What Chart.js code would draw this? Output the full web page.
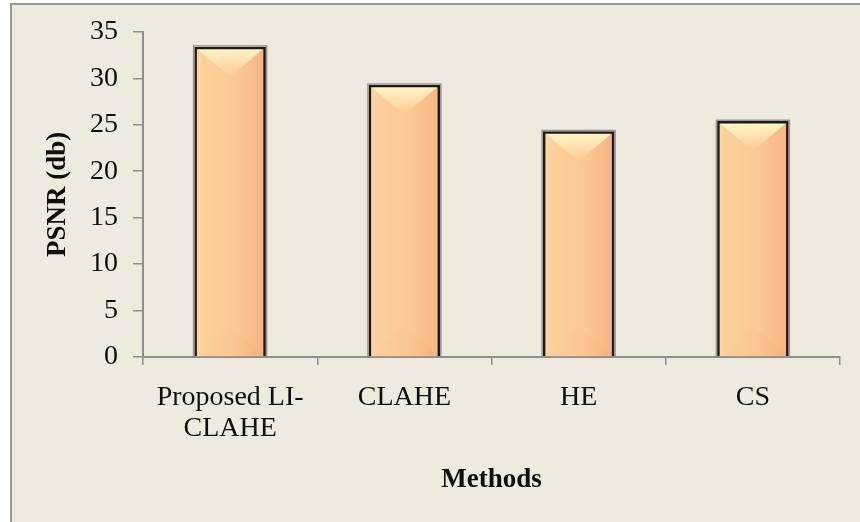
<!DOCTYPE html>
<html>
<head>
<meta charset="utf-8">
<script src="https://cdn.jsdelivr.net/npm/chart.js@4.4.1/dist/chart.umd.min.js"></script>
<style>
  html, body { margin: 0; padding: 0; background: #ffffff; overflow: hidden; }
  #panel {
    position: absolute; left: 10px; top: 3px; width: 870px; height: 540px;
    background: #EDEAE0;
    border-left: 2px solid #9a9a9a; border-top: 2px solid #9a9a9a;
  }
  #wrap { position: absolute; left: 0; top: 0; width: 860px; height: 522px; }
</style>
</head>
<body>
<div id="panel"></div>
<div id="wrap"><canvas id="chart" width="860" height="522"></canvas></div>
<script>
// Methods compared and their PSNR scores
const methods = [['Proposed LI-', 'CLAHE'], 'CLAHE', 'HE', 'CS'];
const psnr = [33.4, 29.3, 24.3, 25.4];
const yMin = 0;
const yMax = 35;
const yStep = 5;

const serif = '"Liberation Serif", "Times New Roman", serif';
const axisGrey = '#8e8e8e';
const textDark = '#0f0f0f';

// Paints the peach face with bevelled top/bottom under each bar's outline
const barFace = {
  id: 'barFace',
  beforeDatasetsDraw(chart) {
    const ctx = chart.ctx;
    chart.getDatasetMeta(0).data.forEach(bar => {
      const l = bar.x - bar.width / 2;
      const r = bar.x + bar.width / 2;
      const t = bar.y;
      const b = bar.base;
      const w = r - l;
      ctx.save();
      // soft dark halo around the frame
      ctx.fillStyle = 'rgba(70,70,70,0.5)';
      ctx.fillRect(l - 1.5, t - 1.5, w + 3, b - t + 1.5);
      // body: light strip on the left, deeper towards the right
      const g = ctx.createLinearGradient(l, 0, r, 0);
      g.addColorStop(0, '#FFDBA9');
      g.addColorStop(0.1, '#FDD19C');
      g.addColorStop(0.6, '#FCC893');
      g.addColorStop(1, '#F5B583');
      ctx.fillStyle = g;
      ctx.fillRect(l, t, w, b - t);
      // top bevel: pale triangle pointing down
      const d = Math.min(w * 0.42, (b - t) / 2);
      const tg = ctx.createLinearGradient(0, t, 0, t + d);
      tg.addColorStop(0, 'rgba(255,249,205,1)');
      tg.addColorStop(0.5, 'rgba(255,236,188,0.7)');
      tg.addColorStop(1, 'rgba(253,222,172,0.05)');
      ctx.beginPath();
      ctx.moveTo(l, t);
      ctx.lineTo(r, t);
      ctx.lineTo(bar.x, t + d);
      ctx.closePath();
      ctx.fillStyle = tg;
      ctx.fill();
      // bottom bevel: faint shading triangle pointing up
      const bg = ctx.createLinearGradient(l, 0, r, 0);
      bg.addColorStop(0, 'rgba(255,214,165,0.18)');
      bg.addColorStop(1, 'rgba(228,152,98,0.1)');
      ctx.beginPath();
      ctx.moveTo(l, b);
      ctx.lineTo(r, b);
      ctx.lineTo(bar.x, b - d);
      ctx.closePath();
      ctx.fillStyle = bg;
      ctx.fill();
      ctx.restore();
    });
  }
};

new Chart(document.getElementById('chart'), {
  type: 'bar',
  data: {
    labels: methods,
    datasets: [{
      data: psnr,
      backgroundColor: 'rgba(0,0,0,0)',
      borderColor: '#1a1a1a',
      borderWidth: 2.5,
      borderSkipped: 'start',
      categoryPercentage: 1,
      barPercentage: 0.41
    }]
  },
  options: {
    responsive: false,
    animation: false,
    devicePixelRatio: 1,
    layout: { padding: { left: 12, top: 31, right: 20, bottom: 0 } },
    plugins: { legend: { display: false }, tooltip: { enabled: false } },
    scales: {
      x: {
        afterFit(s) { s.height = 522 - 357; },
        grid: { drawOnChartArea: false, color: axisGrey, lineWidth: 1.5, tickLength: 8, offset: true },
        border: { color: axisGrey, width: 2 },
        ticks: {
          color: textDark, padding: 17,
          font: { family: serif, size: 28, lineHeight: 1.1 },
          maxRotation: 0, autoSkip: false
        },
        title: {
          display: true, text: 'Methods', color: textDark,
          font: { family: serif, size: 27, weight: 'bold', lineHeight: 1.2 },
          padding: { top: 0, bottom: 26 }
        }
      },
      y: {
        min: yMin, max: yMax,
        afterFit(s) { s.width = 143 - 12; },
        grid: { drawOnChartArea: false, color: axisGrey, lineWidth: 1.5, tickLength: 10 },
        border: { color: axisGrey, width: 2 },
        ticks: {
          stepSize: yStep, color: textDark, padding: 15,
          font: { family: serif, size: 28 }
        },
        title: {
          display: true, text: 'PSNR (db)', color: textDark,
          font: { family: serif, size: 27, weight: 'bold', lineHeight: 1.2 },
          padding: { top: 30, bottom: 0 }
        }
      }
    }
  },
  plugins: [barFace]
});
</script>
</body>
</html>
